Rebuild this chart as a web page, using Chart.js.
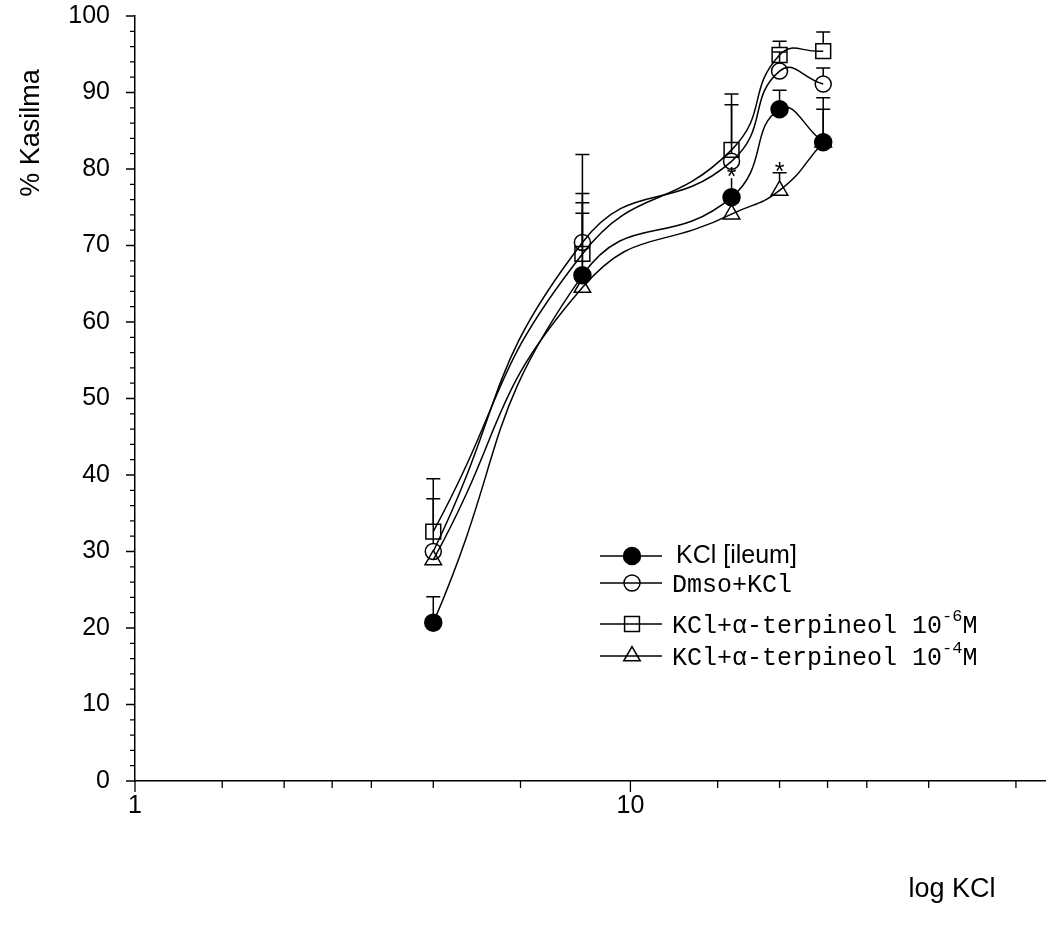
<!DOCTYPE html>
<html lang="tr">
<head>
  <meta charset="UTF-8" />
  <title>% Kasilma - log KCl</title>
  <script src="https://cdn.jsdelivr.net/npm/chart.js"></script>
  <style>
    body { margin: 0; padding: 0; background: #ffffff; }
    #wrap { width: 1046px; height: 942px; }
  </style>
</head>
<body>
  <div id="wrap"><canvas id="kcl" width="1046" height="942"></canvas></div>
  <script>
    // KCl dozlari (log eksen)
    const doses = [4, 8, 16, 20, 24.5];

    // seriler: ortalama ve yukari hata (SEM)
    const kclIleum = [20.7, 66.1, 76.3, 87.8, 83.5];
    const kclIleumErr = [3.4, 8.1, 2.5, 2.5, 5.8];
    const dmsoKcl = [30.0, 70.4, 81.0, 92.8, 91.1];
    const dmsoKclErr = [6.9, 11.5, 7.4, 2.5, 2.1];
    const terp6 = [32.6, 68.9, 82.5, 94.9, 95.4];
    const terp6Err = [6.9, 7.9, 7.3, 1.8, 2.5];
    const terp4 = [28.9, 64.5, 74.1, 77.2, 83.5];
    const terp4Err = [1.0, 11.1, 1.5, 2.3, 4.3];

    // anlamlilik yildizlari
    const kclIleumSig = [false, false, true, false, false];
    const terp4Sig = [false, false, false, true, false];

    // eksen tikleri
    const xTicks = [1, 1.5, 2, 2.5, 3, 4, 6, 10, 15, 20, 25, 30, 40, 60];
    const xLabeled = [1, 10];
    const yTicks = [0, 10, 20, 30, 40, 50, 60, 70, 80, 90, 100];

    const SANS = 'Liberation Sans, Arial, sans-serif';
    const MONO = 'Liberation Mono, Courier New, monospace';

    function pts(vals) {
      return doses.map((d, i) => ({ x: d, y: vals[i] }));
    }

    function marker(ctx, style, x, y, r, filled) {
      ctx.beginPath();
      if (style === 'circle') {
        ctx.arc(x, y, r, 0, Math.PI * 2);
      } else if (style === 'rect') {
        const s = Math.SQRT1_2 * r;
        ctx.rect(x - s, y - s, 2 * s, 2 * s);
      } else {
        ctx.moveTo(x, y - r);
        ctx.lineTo(x + r * 0.866, y + r * 0.5);
        ctx.lineTo(x - r * 0.866, y + r * 0.5);
        ctx.closePath();
      }
      if (filled) ctx.fill();
      ctx.stroke();
    }

    const series = [
      { label: 'KCl [ileum]', vals: kclIleum, err: kclIleumErr, sig: kclIleumSig, style: 'circle', r: 8.5, filled: true },
      { label: 'Dmso+KCl', vals: dmsoKcl, err: dmsoKclErr, sig: null, style: 'circle', r: 8, filled: false },
      { label: 'KCl+α-terpineol 10', sup: '-6', vals: terp6, err: terp6Err, sig: null, style: 'rect', r: 10.5, filled: false },
      { label: 'KCl+α-terpineol 10', sup: '-4', vals: terp4, err: terp4Err, sig: terp4Sig, style: 'triangle', r: 9.5, filled: false }
    ];

    // hata cubuklari + yildizlar
    const errorBars = {
      id: 'errorBars',
      afterDatasetsDraw(chart) {
        const ctx = chart.ctx;
        const ys = chart.scales.y;
        ctx.save();
        ctx.strokeStyle = '#000';
        ctx.fillStyle = '#000';
        ctx.lineWidth = 1.5;
        series.forEach((s, i) => {
          const meta = chart.getDatasetMeta(i);
          meta.data.forEach((p, j) => {
            const top = ys.getPixelForValue(s.vals[j] + s.err[j]);
            const start = p.y - s.r * (s.style === 'rect' ? 0.7 : 1);
            const sig = s.sig && s.sig[j];
            if (top < start) {
              ctx.beginPath();
              ctx.moveTo(p.x, start);
              ctx.lineTo(p.x, top);
              if (!sig || s.style !== 'circle') {
                ctx.moveTo(p.x - 7, top);
                ctx.lineTo(p.x + 7, top);
              }
              ctx.stroke();
            }
            if (sig) {
              ctx.font = '25px ' + SANS;
              ctx.textAlign = 'center';
              ctx.textBaseline = 'alphabetic';
              ctx.fillText('*', p.x, top + 7);
            }
          });
        });
        ctx.restore();
      }
    };

    // eksen tik isaretleri, eksen basliklari ve lejant
    const decorations = {
      id: 'decorations',
      afterDraw(chart) {
        const ctx = chart.ctx;
        const xs = chart.scales.x, ys = chart.scales.y;
        const a = chart.chartArea;
        ctx.save();
        ctx.strokeStyle = '#000';
        ctx.fillStyle = '#000';
        ctx.lineWidth = 1.3;
        ctx.beginPath();
        xTicks.forEach(v => {
          const px = xs.getPixelForValue(v);
          const len = xLabeled.includes(v) ? 11 : 7;
          ctx.moveTo(px, a.bottom);
          ctx.lineTo(px, a.bottom + len);
        });
        for (let v = 0; v <= 100; v += 2) {
          const py = ys.getPixelForValue(v);
          const len = v % 10 === 0 ? 9 : 5;
          ctx.moveTo(a.left - len, py);
          ctx.lineTo(a.left, py);
        }
        ctx.stroke();

        // eksen basliklari
        ctx.font = '27px ' + SANS;
        ctx.textBaseline = 'middle';
        ctx.textAlign = 'center';
        ctx.save();
        ctx.translate(32, 133);
        ctx.rotate(-Math.PI / 2);
        ctx.fillText('% Kasilma', 0, 0);
        ctx.restore();
        ctx.fillText('log KCl', 952, 890);

        // lejant
        const rowsY = [556, 583, 624, 656];
        ctx.lineWidth = 1.5;
        series.forEach((s, i) => {
          const y = rowsY[i];
          ctx.beginPath();
          ctx.moveTo(600, y);
          ctx.lineTo(662, y);
          ctx.stroke();
          marker(ctx, s.style, 632, y, s.r, s.filled);
          ctx.textAlign = 'left';
          ctx.textBaseline = 'middle';
          if (i === 0) {
            ctx.font = '25px ' + SANS;
            ctx.fillText(s.label, 676, y);
          } else {
            ctx.font = '25px ' + MONO;
            ctx.fillText(s.label, 672, y + 2);
            let x = 672 + ctx.measureText(s.label).width;
            if (s.sup) {
              ctx.font = '17px ' + MONO;
              ctx.fillText(s.sup, x, y - 8);
              x += ctx.measureText(s.sup).width;
              ctx.font = '25px ' + MONO;
              ctx.fillText('M', x, y + 2);
            }
          }
        });
        ctx.restore();
      }
    };

    const datasets = series.map(s => ({
      label: s.sup ? s.label + s.sup + 'M' : s.label,
      data: pts(s.vals),
      borderColor: '#000',
      borderWidth: 1.5,
      tension: 0.5,
      fill: false,
      pointStyle: s.style,
      pointRadius: s.r,
      pointBorderColor: '#000',
      pointBorderWidth: 1.5,
      pointBackgroundColor: s.filled ? '#000' : 'rgba(0,0,0,0)'
    }));

    new Chart(document.getElementById('kcl').getContext('2d'), {
      type: 'line',
      data: { datasets: datasets },
      options: {
        responsive: false,
        animation: false,
        devicePixelRatio: 1,
        layout: { autoPadding: false, padding: { top: 16, left: 0, right: 0, bottom: 0 } },
        plugins: { legend: { display: false }, tooltip: { enabled: false } },
        scales: {
          x: {
            type: 'logarithmic',
            min: 1,
            max: 69,
            afterBuildTicks: s => { s.ticks = xTicks.map(v => ({ value: v })); },
            afterFit: s => { s.height = 161; s.paddingLeft = 0; s.paddingRight = 0; },
            grid: { display: false, drawTicks: false },
            border: { display: true, color: '#000', width: 1.5 },
            ticks: {
              autoSkip: false,
              maxRotation: 0,
              padding: 10,
              color: '#000',
              font: { family: SANS, size: 25 },
              callback: v => xLabeled.includes(v) ? String(v) : ''
            }
          },
          y: {
            min: 0,
            max: 100,
            afterBuildTicks: s => { s.ticks = yTicks.map(v => ({ value: v })); },
            afterFit: s => { s.width = 135; s.paddingTop = 0; s.paddingBottom = 0; },
            grid: { display: false, drawTicks: false },
            border: { display: true, color: '#000', width: 1.5 },
            ticks: {
              padding: 25,
              color: '#000',
              font: { family: SANS, size: 25 }
            }
          }
        }
      },
      plugins: [errorBars, decorations]
    });
  </script>
</body>
</html>
